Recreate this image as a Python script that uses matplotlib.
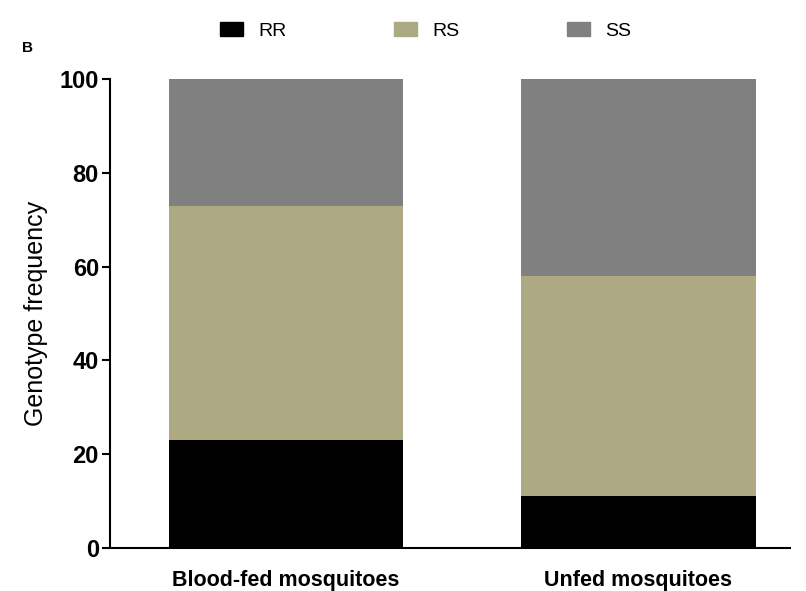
import matplotlib.pyplot as plt
from matplotlib.patches import Patch

plt.rcParams['font.family'] = ['Liberation Sans', 'DejaVu Sans']

groups = ["Blood-fed mosquitoes", "Unfed mosquitoes"]
genotypes = ["RR", "RS", "SS"]
rr = [23, 11]
rs = [50, 47]
ss = [27, 42]
colours = ["#000000", "#ada983", "#808080"]

fig = plt.figure(figsize=(8.06, 5.91), dpi=100)
ax = fig.add_axes([110 / 806, 1 - 548 / 591, 680 / 806, 469 / 591])

x = [0, 1]
w = 0.665
ax.bar(x, rr, w, color=colours[0])
ax.bar(x, rs, w, bottom=rr, color=colours[1])
ax.bar(x, ss, w, bottom=[a + b for a, b in zip(rr, rs)], color=colours[2])

ax.set_xlim(-0.5, 1.43)
ax.set_ylim(0, 100)
ax.set_yticks([0, 20, 40, 60, 80, 100])
ax.set_xticks(x)
ax.set_xticklabels(groups, fontsize=15.5, fontweight="bold")
for lab in ax.get_yticklabels():
    lab.set_fontsize(17)
    lab.set_fontweight("bold")
ax.tick_params(axis="y", length=6, width=1.5, pad=2)
ax.tick_params(axis="x", length=0, pad=16)
ax.spines["top"].set_visible(False)
ax.spines["right"].set_visible(False)
ax.spines["left"].set_linewidth(1.5)
ax.spines["bottom"].set_linewidth(1.5)
ax.set_ylabel("Genotype frequency", fontsize=18, labelpad=8)

handles = [Patch(color=c) for c in colours]
fig.legend(handles, genotypes, loc="center", bbox_to_anchor=(0.528, 0.948), ncol=3,
           frameon=False, fontsize=14, handlelength=1.2, handleheight=0.7,
           columnspacing=5.5)
fig.text(22 / 806, 1 - 48 / 591, "B", fontsize=11, fontweight="bold", va="center")

fig.savefig("out.png", dpi=100)
